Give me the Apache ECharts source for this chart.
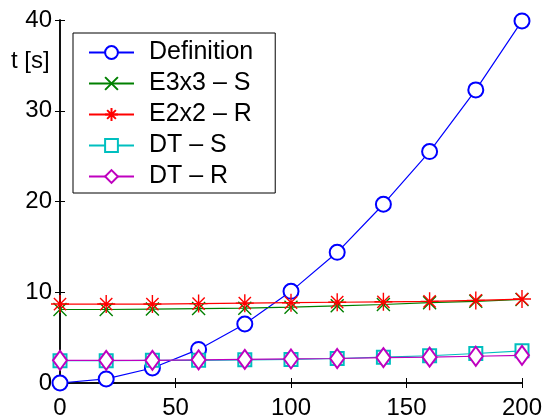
<!DOCTYPE html>
<html>
<head>
<meta charset="utf-8">
<script src="https://cdn.jsdelivr.net/npm/echarts@6/dist/echarts.min.js"></script>
<style>
  html, body { margin: 0; padding: 0; background: #fff; }
  #chart { width: 546px; height: 420px; }
</style>
</head>
<body>
<div id="chart"></div>
<script>
// sizes (x axis)
var sizes = [0, 20, 40, 60, 80, 100, 120, 140, 160, 180, 200]
// timings in seconds
var definition = [0, 0.45, 1.65, 3.7, 6.5, 10.1, 14.4, 19.7, 25.5, 32.3, 39.9]
var e3x3S = [8.1, 8.1, 8.15, 8.2, 8.25, 8.35, 8.5, 8.65, 8.85, 9.0, 9.2]
var e2x2R = [8.7, 8.7, 8.7, 8.75, 8.8, 8.85, 8.9, 8.95, 9.0, 9.1, 9.25]
var dtS = [2.45, 2.45, 2.5, 2.5, 2.55, 2.6, 2.7, 2.85, 3.0, 3.25, 3.55]
var dtR = [2.5, 2.5, 2.5, 2.55, 2.6, 2.65, 2.7, 2.8, 2.85, 2.95, 3.05]
var xTicks = [0, 50, 100, 150, 200]
var yTicks = [0, 10, 20, 30, 40]

var FONT = 'Liberation Sans'
var crossPath = 'path://M0,0L10,10M10,0L0,10'
var starPath = 'path://M5,0L5,10M0,5L10,5M1.6,1.6L8.4,8.4M8.4,1.6L1.6,8.4'

function pairs(ys) {
  return sizes.map(function (x, i) { return [x, ys[i]] })
}

function makeSeries(name, ys, color, symbol, size, isPath) {
  return {
    name: name,
    type: 'line',
    data: pairs(ys),
    symbol: symbol,
    symbolSize: size,
    showAllSymbol: true,
    lineStyle: { color: color, width: 1.2 },
    itemStyle: isPath
      ? { color: 'transparent', borderColor: color, borderWidth: 1.4 }
      : { color: color, borderColor: color, borderWidth: 1.3 },
    emphasis: { disabled: true },
    animation: false
  }
}

var chart = echarts.init(document.getElementById('chart'))
chart.setOption({
  backgroundColor: '#fff',
  animation: false,
  grid: { left: 60, right: 24, top: 20, bottom: 36 },
  legend: {
    orient: 'vertical',
    left: 73,
    top: 33,
    padding: [7, 22, 4, 15],
    borderColor: '#000',
    borderWidth: 1,
    backgroundColor: '#fff',
    itemWidth: 45,
    itemHeight: 16,
    itemGap: 6,
    textStyle: { fontFamily: FONT, fontSize: 25, color: '#000', padding: [0, 0, 0, 10] },
    data: ['Definition', 'E3x3 – S', 'E2x2 – R', 'DT – S', 'DT – R']
  },
  graphic: [{
    type: 'text',
    left: 11,
    top: 49,
    style: { text: 't [s]', fontFamily: FONT, fontSize: 24, fill: '#000' }
  }],
  xAxis: [{
    type: 'value', min: 0, max: 200, interval: 50,
    axisLine: { lineStyle: { color: '#000', width: 1.5 } },
    axisTick: { inside: true, length: 5, lineStyle: { color: '#000' } },
    axisLabel: { fontFamily: FONT, fontSize: 24, color: '#000', margin: 13,
      formatter: function (v) { return xTicks.indexOf(v) >= 0 ? String(v) : '' } },
    splitLine: { show: false }
  }, {
    type: 'value', position: 'top', min: 0, max: 200, interval: 50,
    axisLine: { lineStyle: { color: '#000', width: 1.5 } },
    axisTick: { inside: true, length: 5, lineStyle: { color: '#000' } },
    axisLabel: { show: false },
    splitLine: { show: false }
  }],
  yAxis: [{
    type: 'value', min: 0, max: 40, interval: 10,
    axisLine: { show: true, lineStyle: { color: '#000', width: 1.5 } },
    axisTick: { show: true, inside: true, length: 5, lineStyle: { color: '#000' } },
    axisLabel: { fontFamily: FONT, fontSize: 24, color: '#000', margin: 8,
      formatter: function (v) { return yTicks.indexOf(v) >= 0 ? String(v) : '' } },
    splitLine: { show: false }
  }, {
    type: 'value', position: 'right', min: 0, max: 40, interval: 10,
    axisLine: { show: true, lineStyle: { color: '#000', width: 1.5 } },
    axisTick: { show: true, inside: true, length: 5, lineStyle: { color: '#000' } },
    axisLabel: { show: false },
    splitLine: { show: false }
  }],
  series: [
    makeSeries('Definition', definition, '#0000ff', 'emptyCircle', 15, false),
    makeSeries('E3x3 – S', e3x3S, '#008000', crossPath, 13, true),
    makeSeries('E2x2 – R', e2x2R, '#ff0000', starPath, 18, true),
    makeSeries('DT – S', dtS, '#00bfbf', 'emptyRect', 13, false),
    makeSeries('DT – R', dtR, '#bf00bf', 'emptyDiamond', [14, 19], false)
  ]
})
</script>
</body>
</html>
